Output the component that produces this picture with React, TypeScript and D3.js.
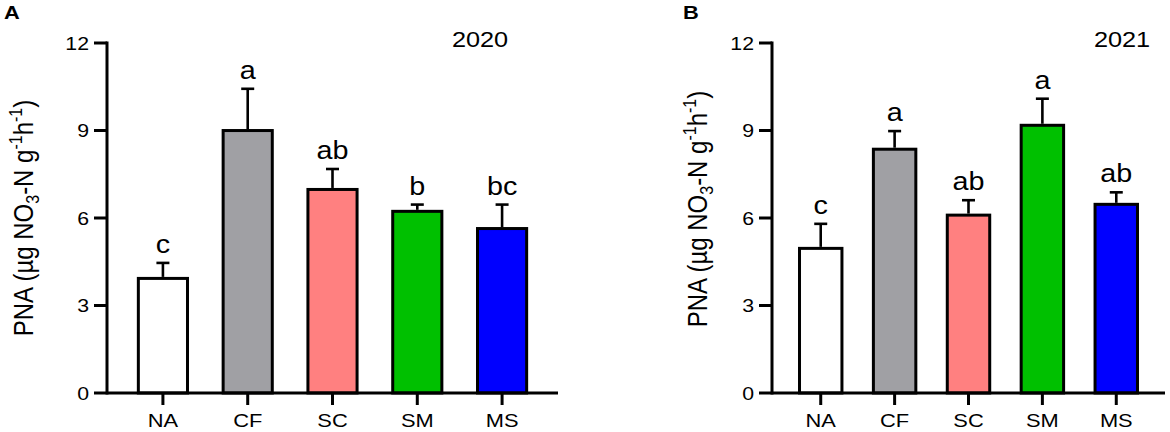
import * as d3 from "d3";
import React, { useEffect, useRef } from "react";

// treatment groups and colours
const groups = ["NA", "CF", "SC", "SM", "MS"];
const fills = ["#ffffff", "#a0a0a4", "#ff8080", "#00c000", "#0000ff"];

// 2020 means, SD and significance letters
const means2020 = [3.98, 9.05, 7.03, 6.28, 5.69];
const errors2020 = [0.48, 1.38, 0.65, 0.18, 0.77];
const letters2020 = ["c", "a", "ab", "b", "bc"];

// 2021 means, SD and significance letters
const means2021 = [5.01, 8.41, 6.15, 9.23, 6.52];
const errors2021 = [0.79, 0.57, 0.46, 0.86, 0.36];
const letters2021 = ["c", "a", "ab", "a", "ab"];

const yTicks = [0, 3, 6, 9, 12];

const panels = [
  { tag: "A", year: "2020", means: means2020, errors: errors2020, letters: letters2020 },
  { tag: "B", year: "2021", means: means2021, errors: errors2021, letters: letters2021 },
];

// layout of each panel in page pixels
const frames = [
  { left: 107, right: 558, titleX: 33, titleY: 218, tagX: 4, yearX: 480 },
  { left: 772, right: 1165, titleX: 707, titleY: 209, tagX: 683, yearX: 1122 },
];

const width = 1170;
const height = 432;
const top = 43;
const bottom = 393;
const S = 1.15; // the figure is stretched horizontally
const font = "'Liberation Sans', Arial, sans-serif";

export default function App() {
  const svgRef = useRef<SVGSVGElement | null>(null);

  useEffect(() => {
    if (!svgRef.current) return;
    const svg = d3.select(svgRef.current);
    svg.selectAll("*").remove();
    svg.attr("width", width).attr("height", height).style("font-family", font);

    const y = d3.scaleLinear().domain([0, 12]).range([bottom, top]);

    // horizontal text with the figure's stretch
    const label = (
      g: d3.Selection<SVGGElement, unknown, null, undefined>,
      x: number,
      yy: number,
      txt: string,
      size: number,
      anchor = "middle",
      weight = "normal",
    ) =>
      g
        .append("g")
        .attr("transform", `translate(${x},${yy}) scale(${S},1)`)
        .append("text")
        .attr("text-anchor", anchor)
        .attr("font-size", size)
        .attr("font-weight", weight)
        .attr("fill", "#000")
        .text(txt);

    panels.forEach((p, k) => {
      const f = frames[k];
      const g = svg.append("g");

      const x = d3
        .scaleBand()
        .domain(groups)
        .range([f.left, f.right])
        .paddingInner(0.385)
        .paddingOuter(0.352);

      // bars
      g.append("g")
        .selectAll("rect")
        .data(p.means)
        .join("rect")
        .attr("x", (_, i) => x(groups[i])! + 1.5)
        .attr("width", x.bandwidth() - 3)
        .attr("y", (d) => y(d) + 1.5)
        .attr("height", (d) => bottom - y(d) - 1.5)
        .attr("fill", (_, i) => fills[i])
        .attr("stroke", "#000")
        .attr("stroke-width", 3);

      // error bars (upper only)
      const eb = g
        .append("g")
        .selectAll("g")
        .data(p.means)
        .join("g")
        .attr("transform", (_, i) => `translate(${x(groups[i])! + x.bandwidth() / 2},0)`);
      eb.append("line")
        .attr("y1", (d) => y(d))
        .attr("y2", (d, i) => y(d + p.errors[i]))
        .attr("stroke", "#000")
        .attr("stroke-width", 2.6);
      eb.append("line")
        .attr("x1", -6.5)
        .attr("x2", 6.5)
        .attr("y1", (d, i) => y(d + p.errors[i]))
        .attr("y2", (d, i) => y(d + p.errors[i]))
        .attr("stroke", "#000")
        .attr("stroke-width", 2.6);

      // significance letters
      p.means.forEach((d, i) => {
        label(g, x(groups[i])! + x.bandwidth() / 2, y(d + p.errors[i]) - 10, p.letters[i], 25);
      });

      // y axis
      g.append("line")
        .attr("x1", f.left)
        .attr("x2", f.left)
        .attr("y1", y(0) + 1.5)
        .attr("y2", y(12) - 1.5)
        .attr("stroke", "#000")
        .attr("stroke-width", 3);
      yTicks.forEach((t) => {
        g.append("line")
          .attr("x1", f.left - 13)
          .attr("x2", f.left)
          .attr("y1", y(t))
          .attr("y2", y(t))
          .attr("stroke", "#000")
          .attr("stroke-width", 3);
        label(g, f.left - 18, y(t) + 6.5, String(t), 18.5, "end");
      });

      // x axis
      g.append("line")
        .attr("x1", f.left)
        .attr("x2", f.right)
        .attr("y1", bottom)
        .attr("y2", bottom)
        .attr("stroke", "#000")
        .attr("stroke-width", 3);
      groups.forEach((c) => {
        const cx = x(c)! + x.bandwidth() / 2;
        g.append("line")
          .attr("x1", cx)
          .attr("x2", cx)
          .attr("y1", bottom)
          .attr("y2", bottom + 12)
          .attr("stroke", "#000")
          .attr("stroke-width", 3);
        label(g, cx, 427, c, 19);
      });

      // axis title
      const title = g
        .append("g")
        .attr("transform", `translate(${f.titleX},${f.titleY}) scale(${S},1) rotate(-90)`)
        .append("text")
        .attr("text-anchor", "middle")
        .attr("font-size", 24)
        .attr("fill", "#000");
      title.append("tspan").text("PNA (µg NO");
      title.append("tspan").attr("font-size", 16).attr("dy", 5).text("3");
      title.append("tspan").attr("dy", -5).text("-N g");
      title.append("tspan").attr("font-size", 16).attr("dy", -10).text("-1");
      title.append("tspan").attr("dy", 10).text("h");
      title.append("tspan").attr("font-size", 16).attr("dy", -10).text("-1");
      title.append("tspan").attr("dy", 10).text(")");

      // year and panel tag
      label(g, f.yearX, 47, p.year, 22);
      label(g, f.tagX, 19, p.tag, 19, "start", "bold");
    });
  }, []);

  return <svg ref={svgRef} style={{ position: "absolute", left: 0, top: 0 }}></svg>;
}
